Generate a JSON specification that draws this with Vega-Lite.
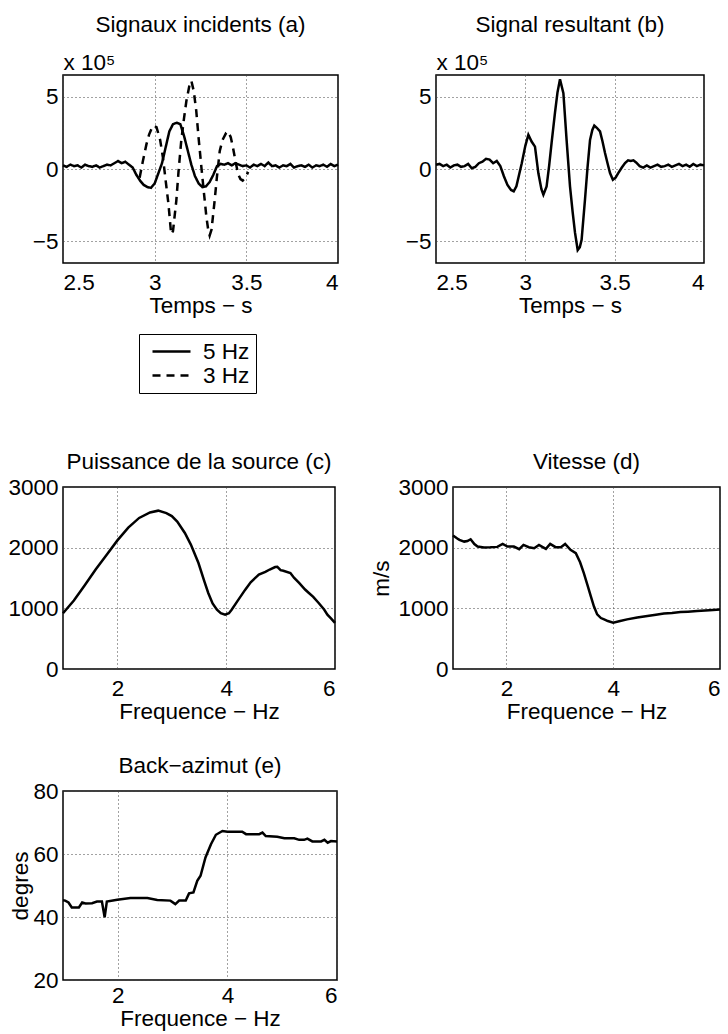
{
  "$schema": "https://vega.github.io/schema/vega-lite/v6.json",
  "background": "white",
  "padding": {"left": 7, "top": 12, "right": 5, "bottom": 5},
  "config": {
    "font": "Liberation Sans",
    "view": {"stroke": "#000", "strokeWidth": 1.5},
    "axis": {
      "labelFont": "Liberation Sans", "labelFontSize": 22.5, "labelColor": "#000",
      "titleFont": "Liberation Sans", "titleFontSize": 22.5, "titleFontWeight": "normal", "titleColor": "#000",
      "domain": false, "ticks": false, "tickSize": 0,
      "grid": true, "gridColor": "#444", "gridDash": [1, 3], "gridWidth": 1, "gridOpacity": 1
    },
    "axisX": {"labelPadding": 8, "titlePadding": 1},
    "axisY": {"labelPadding": 5},
    "title": {"font": "Liberation Sans", "fontSize": 22.5, "fontWeight": "normal", "color": "#000", "anchor": "middle"},
    "line": {"color": "#000", "strokeWidth": 2.5}
  },
  "datasets": {
    "sigA": [
      {"t":2.50,"amp":25000,"serie":"5 Hz"},{"t":2.52,"amp":15000,"serie":"5 Hz"},{"t":2.54,"amp":30000,"serie":"5 Hz"},{"t":2.56,"amp":20000,"serie":"5 Hz"},{"t":2.58,"amp":25000,"serie":"5 Hz"},{"t":2.60,"amp":10000,"serie":"5 Hz"},{"t":2.62,"amp":30000,"serie":"5 Hz"},{"t":2.64,"amp":20000,"serie":"5 Hz"},{"t":2.66,"amp":15000,"serie":"5 Hz"},{"t":2.68,"amp":25000,"serie":"5 Hz"},{"t":2.70,"amp":10000,"serie":"5 Hz"},{"t":2.72,"amp":20000,"serie":"5 Hz"},{"t":2.74,"amp":30000,"serie":"5 Hz"},{"t":2.76,"amp":25000,"serie":"5 Hz"},{"t":2.78,"amp":40000,"serie":"5 Hz"},{"t":2.80,"amp":55000,"serie":"5 Hz"},{"t":2.82,"amp":40000,"serie":"5 Hz"},{"t":2.84,"amp":50000,"serie":"5 Hz"},{"t":2.86,"amp":30000,"serie":"5 Hz"},{"t":2.88,"amp":10000,"serie":"5 Hz"},{"t":2.90,"amp":-40000,"serie":"5 Hz"},{"t":2.92,"amp":-80000,"serie":"5 Hz"},{"t":2.94,"amp":-110000,"serie":"5 Hz"},{"t":2.96,"amp":-125000,"serie":"5 Hz"},{"t":2.98,"amp":-130000,"serie":"5 Hz"},{"t":3.00,"amp":-100000,"serie":"5 Hz"},{"t":3.02,"amp":-30000,"serie":"5 Hz"},{"t":3.04,"amp":40000,"serie":"5 Hz"},{"t":3.06,"amp":150000,"serie":"5 Hz"},{"t":3.08,"amp":260000,"serie":"5 Hz"},{"t":3.10,"amp":310000,"serie":"5 Hz"},{"t":3.12,"amp":320000,"serie":"5 Hz"},{"t":3.14,"amp":310000,"serie":"5 Hz"},{"t":3.16,"amp":230000,"serie":"5 Hz"},{"t":3.18,"amp":130000,"serie":"5 Hz"},{"t":3.20,"amp":30000,"serie":"5 Hz"},{"t":3.22,"amp":-50000,"serie":"5 Hz"},{"t":3.24,"amp":-100000,"serie":"5 Hz"},{"t":3.26,"amp":-125000,"serie":"5 Hz"},{"t":3.28,"amp":-120000,"serie":"5 Hz"},{"t":3.30,"amp":-90000,"serie":"5 Hz"},{"t":3.32,"amp":-40000,"serie":"5 Hz"},{"t":3.34,"amp":20000,"serie":"5 Hz"},{"t":3.36,"amp":35000,"serie":"5 Hz"},{"t":3.38,"amp":30000,"serie":"5 Hz"},{"t":3.40,"amp":40000,"serie":"5 Hz"},{"t":3.42,"amp":25000,"serie":"5 Hz"},{"t":3.44,"amp":40000,"serie":"5 Hz"},{"t":3.46,"amp":30000,"serie":"5 Hz"},{"t":3.48,"amp":20000,"serie":"5 Hz"},{"t":3.50,"amp":25000,"serie":"5 Hz"},{"t":3.52,"amp":10000,"serie":"5 Hz"},{"t":3.54,"amp":30000,"serie":"5 Hz"},{"t":3.56,"amp":20000,"serie":"5 Hz"},{"t":3.58,"amp":35000,"serie":"5 Hz"},{"t":3.60,"amp":20000,"serie":"5 Hz"},{"t":3.62,"amp":45000,"serie":"5 Hz"},{"t":3.64,"amp":20000,"serie":"5 Hz"},{"t":3.66,"amp":25000,"serie":"5 Hz"},{"t":3.68,"amp":10000,"serie":"5 Hz"},{"t":3.70,"amp":25000,"serie":"5 Hz"},{"t":3.72,"amp":20000,"serie":"5 Hz"},{"t":3.74,"amp":35000,"serie":"5 Hz"},{"t":3.76,"amp":10000,"serie":"5 Hz"},{"t":3.78,"amp":20000,"serie":"5 Hz"},{"t":3.80,"amp":25000,"serie":"5 Hz"},{"t":3.82,"amp":15000,"serie":"5 Hz"},{"t":3.84,"amp":30000,"serie":"5 Hz"},{"t":3.86,"amp":10000,"serie":"5 Hz"},{"t":3.88,"amp":25000,"serie":"5 Hz"},{"t":3.90,"amp":20000,"serie":"5 Hz"},{"t":3.92,"amp":30000,"serie":"5 Hz"},{"t":3.94,"amp":15000,"serie":"5 Hz"},{"t":3.96,"amp":35000,"serie":"5 Hz"},{"t":3.98,"amp":20000,"serie":"5 Hz"},{"t":4.00,"amp":30000,"serie":"5 Hz"},
      {"t":2.918,"amp":-60000,"serie":"3 Hz"},{"t":2.935,"amp":50000,"serie":"3 Hz"},{"t":2.955,"amp":170000,"serie":"3 Hz"},{"t":2.97,"amp":240000,"serie":"3 Hz"},{"t":2.99,"amp":300000,"serie":"3 Hz"},{"t":3.01,"amp":290000,"serie":"3 Hz"},{"t":3.03,"amp":200000,"serie":"3 Hz"},{"t":3.045,"amp":80000,"serie":"3 Hz"},{"t":3.06,"amp":-80000,"serie":"3 Hz"},{"t":3.075,"amp":-240000,"serie":"3 Hz"},{"t":3.09,"amp":-450000,"serie":"3 Hz"},{"t":3.10,"amp":-430000,"serie":"3 Hz"},{"t":3.118,"amp":-220000,"serie":"3 Hz"},{"t":3.13,"amp":-20000,"serie":"3 Hz"},{"t":3.145,"amp":195000,"serie":"3 Hz"},{"t":3.16,"amp":350000,"serie":"3 Hz"},{"t":3.173,"amp":470000,"serie":"3 Hz"},{"t":3.19,"amp":580000,"serie":"3 Hz"},{"t":3.20,"amp":610000,"serie":"3 Hz"},{"t":3.213,"amp":540000,"serie":"3 Hz"},{"t":3.227,"amp":400000,"serie":"3 Hz"},{"t":3.24,"amp":210000,"serie":"3 Hz"},{"t":3.255,"amp":10000,"serie":"3 Hz"},{"t":3.27,"amp":-180000,"serie":"3 Hz"},{"t":3.282,"amp":-330000,"serie":"3 Hz"},{"t":3.292,"amp":-420000,"serie":"3 Hz"},{"t":3.30,"amp":-460000,"serie":"3 Hz"},{"t":3.31,"amp":-420000,"serie":"3 Hz"},{"t":3.327,"amp":-220000,"serie":"3 Hz"},{"t":3.34,"amp":-50000,"serie":"3 Hz"},{"t":3.355,"amp":125000,"serie":"3 Hz"},{"t":3.37,"amp":200000,"serie":"3 Hz"},{"t":3.39,"amp":250000,"serie":"3 Hz"},{"t":3.40,"amp":260000,"serie":"3 Hz"},{"t":3.415,"amp":220000,"serie":"3 Hz"},{"t":3.427,"amp":150000,"serie":"3 Hz"},{"t":3.44,"amp":60000,"serie":"3 Hz"},{"t":3.455,"amp":-35000,"serie":"3 Hz"},{"t":3.468,"amp":-70000,"serie":"3 Hz"},{"t":3.48,"amp":-80000,"serie":"3 Hz"},{"t":3.495,"amp":-60000,"serie":"3 Hz"},{"t":3.51,"amp":-20000,"serie":"3 Hz"}
    ],
    "sigB": [
      {"t":2.50,"amp":30000},{"t":2.52,"amp":35000},{"t":2.54,"amp":20000},{"t":2.56,"amp":30000},{"t":2.58,"amp":10000},{"t":2.60,"amp":25000},{"t":2.62,"amp":30000},{"t":2.64,"amp":15000},{"t":2.66,"amp":20000},{"t":2.68,"amp":35000},{"t":2.70,"amp":5000},{"t":2.72,"amp":15000},{"t":2.74,"amp":40000},{"t":2.76,"amp":50000},{"t":2.78,"amp":70000},{"t":2.80,"amp":65000},{"t":2.82,"amp":40000},{"t":2.84,"amp":55000},{"t":2.86,"amp":20000},{"t":2.88,"amp":-50000},{"t":2.90,"amp":-110000},{"t":2.92,"amp":-145000},{"t":2.935,"amp":-155000},{"t":2.95,"amp":-120000},{"t":2.965,"amp":-40000},{"t":2.98,"amp":40000},{"t":3.00,"amp":160000},{"t":3.017,"amp":237000},{"t":3.035,"amp":190000},{"t":3.054,"amp":155000},{"t":3.073,"amp":-30000},{"t":3.09,"amp":-140000},{"t":3.101,"amp":-177000},{"t":3.119,"amp":-120000},{"t":3.133,"amp":20000},{"t":3.147,"amp":180000},{"t":3.166,"amp":390000},{"t":3.18,"amp":530000},{"t":3.194,"amp":620000},{"t":3.213,"amp":525000},{"t":3.231,"amp":200000},{"t":3.25,"amp":-120000},{"t":3.265,"amp":-300000},{"t":3.278,"amp":-440000},{"t":3.293,"amp":-560000},{"t":3.305,"amp":-540000},{"t":3.315,"amp":-490000},{"t":3.334,"amp":-210000},{"t":3.348,"amp":10000},{"t":3.362,"amp":200000},{"t":3.375,"amp":270000},{"t":3.386,"amp":300000},{"t":3.40,"amp":285000},{"t":3.418,"amp":260000},{"t":3.432,"amp":190000},{"t":3.446,"amp":110000},{"t":3.46,"amp":40000},{"t":3.474,"amp":-28000},{"t":3.49,"amp":-74000},{"t":3.505,"amp":-60000},{"t":3.52,"amp":-28000},{"t":3.54,"amp":10000},{"t":3.558,"amp":41000},{"t":3.575,"amp":60000},{"t":3.59,"amp":55000},{"t":3.605,"amp":60000},{"t":3.62,"amp":45000},{"t":3.64,"amp":20000},{"t":3.66,"amp":10000},{"t":3.68,"amp":25000},{"t":3.70,"amp":10000},{"t":3.72,"amp":20000},{"t":3.74,"amp":30000},{"t":3.76,"amp":15000},{"t":3.78,"amp":20000},{"t":3.80,"amp":30000},{"t":3.82,"amp":15000},{"t":3.84,"amp":25000},{"t":3.86,"amp":35000},{"t":3.88,"amp":20000},{"t":3.90,"amp":30000},{"t":3.92,"amp":15000},{"t":3.94,"amp":35000},{"t":3.96,"amp":20000},{"t":3.98,"amp":30000},{"t":4.00,"amp":25000}
    ],
    "puissance": [
      {"f":1.0,"p":920},{"f":1.2,"p":1130},{"f":1.4,"p":1380},{"f":1.6,"p":1640},{"f":1.8,"p":1880},{"f":2.0,"p":2120},{"f":2.2,"p":2330},{"f":2.4,"p":2490},{"f":2.6,"p":2580},{"f":2.75,"p":2610},{"f":2.9,"p":2570},{"f":3.0,"p":2520},{"f":3.1,"p":2430},{"f":3.24,"p":2242},{"f":3.35,"p":2050},{"f":3.49,"p":1747},{"f":3.6,"p":1440},{"f":3.67,"p":1253},{"f":3.75,"p":1080},{"f":3.83,"p":978},{"f":3.9,"p":920},{"f":3.98,"p":896},{"f":4.05,"p":920},{"f":4.1,"p":978},{"f":4.2,"p":1110},{"f":4.35,"p":1308},{"f":4.45,"p":1430},{"f":4.6,"p":1555},{"f":4.72,"p":1600},{"f":4.8,"p":1640},{"f":4.9,"p":1680},{"f":4.94,"p":1685},{"f":5.0,"p":1630},{"f":5.05,"p":1620},{"f":5.18,"p":1582},{"f":5.25,"p":1500},{"f":5.34,"p":1418},{"f":5.45,"p":1310},{"f":5.52,"p":1253},{"f":5.6,"p":1190},{"f":5.7,"p":1088},{"f":5.8,"p":980},{"f":5.86,"p":896},{"f":5.93,"p":830},{"f":6.0,"p":760}
    ],
    "vitesse": [
      {"f":1.0,"v":2200},{"f":1.08,"v":2150},{"f":1.12,"v":2128},{"f":1.21,"v":2100},{"f":1.27,"v":2110},{"f":1.33,"v":2139},{"f":1.40,"v":2060},{"f":1.46,"v":2019},{"f":1.58,"v":2002},{"f":1.70,"v":2005},{"f":1.83,"v":2013},{"f":1.93,"v":2062},{"f":2.02,"v":2019},{"f":2.14,"v":2019},{"f":2.24,"v":1975},{"f":2.32,"v":2046},{"f":2.42,"v":2008},{"f":2.52,"v":1991},{"f":2.61,"v":2046},{"f":2.68,"v":2010},{"f":2.74,"v":1980},{"f":2.82,"v":2062},{"f":2.92,"v":2008},{"f":3.02,"v":2008},{"f":3.10,"v":2062},{"f":3.20,"v":1964},{"f":3.30,"v":1909},{"f":3.38,"v":1760},{"f":3.45,"v":1582},{"f":3.52,"v":1380},{"f":3.58,"v":1200},{"f":3.64,"v":1030},{"f":3.70,"v":900},{"f":3.77,"v":840},{"f":3.83,"v":818},{"f":3.90,"v":790},{"f":4.00,"v":764},{"f":4.13,"v":790},{"f":4.26,"v":818},{"f":4.45,"v":850},{"f":4.64,"v":873},{"f":4.80,"v":895},{"f":4.95,"v":916},{"f":5.10,"v":925},{"f":5.26,"v":938},{"f":5.40,"v":945},{"f":5.57,"v":955},{"f":5.80,"v":970},{"f":6.00,"v":982}
    ],
    "azimut": [
      {"f":1.0,"deg":45.3},{"f":1.04,"deg":45.2},{"f":1.10,"deg":44.6},{"f":1.16,"deg":43.0},{"f":1.29,"deg":43.0},{"f":1.35,"deg":44.6},{"f":1.41,"deg":44.3},{"f":1.53,"deg":44.4},{"f":1.62,"deg":44.9},{"f":1.71,"deg":44.9},{"f":1.76,"deg":39.9},{"f":1.80,"deg":44.9},{"f":1.99,"deg":45.5},{"f":2.23,"deg":46.0},{"f":2.54,"deg":46.0},{"f":2.72,"deg":45.4},{"f":2.96,"deg":45.2},{"f":3.05,"deg":44.1},{"f":3.12,"deg":45.2},{"f":3.24,"deg":45.2},{"f":3.30,"deg":47.5},{"f":3.38,"deg":47.8},{"f":3.45,"deg":51.5},{"f":3.51,"deg":53.1},{"f":3.60,"deg":58.9},{"f":3.70,"deg":63.1},{"f":3.79,"deg":66.1},{"f":3.91,"deg":67.3},{"f":4.00,"deg":67.1},{"f":4.27,"deg":67.1},{"f":4.34,"deg":66.3},{"f":4.58,"deg":66.3},{"f":4.64,"deg":66.8},{"f":4.70,"deg":65.7},{"f":4.91,"deg":65.5},{"f":5.04,"deg":65.0},{"f":5.22,"deg":65.0},{"f":5.31,"deg":64.5},{"f":5.40,"deg":64.5},{"f":5.46,"deg":64.9},{"f":5.55,"deg":64.0},{"f":5.71,"deg":64.0},{"f":5.77,"deg":64.5},{"f":5.83,"deg":63.6},{"f":5.89,"deg":64.1},{"f":6.00,"deg":64.0}
    ]
  },
  "spacing": 131,
  "resolve": {"scale": {"x": "independent", "y": "independent"}},
  "vconcat": [
    {
      "spacing": 60,
      "resolve": {"scale": {"x": "independent", "y": "independent"}},
      "hconcat": [
        {
          "width": 275, "height": 188,
          "title": {"text": "Signaux incidents (a)", "offset": 15},
          "data": {"name": "sigA"},
          "mark": {"type": "line", "color": "#000", "strokeWidth": 2.5},
          "encoding": {
            "x": {"field": "t", "type": "quantitative", "scale": {"domain": [2.5, 4], "nice": false, "zero": false}, "axis": {"values": [2.5, 3, 3.5, 4], "format": "~g", "title": "Temps − s"}},
            "y": {"field": "amp", "type": "quantitative", "scale": {"domain": [-650000, 650000], "nice": false, "zero": false}, "axis": {"values": [-500000, 0, 500000], "labelExpr": "format(datum.value / 100000, 'd')", "title": "x 10⁵", "titleAngle": 0, "titleAlign": "left", "titleBaseline": "alphabetic", "titleX": 0, "titleY": -6}},
            "strokeDash": {"field": "serie", "type": "nominal", "scale": {"domain": ["5 Hz", "3 Hz"], "range": [[1, 0], [8, 6]]}, "legend": {"orient": "none", "legendX": 76, "legendY": 259, "title": null, "symbolType": "M-0.4,0H3.4", "symbolSize": 400, "symbolStrokeWidth": 2.5, "symbolStrokeColor": "#000", "labelFontSize": 22.5, "labelFont": "Liberation Sans", "labelColor": "#000", "labelOffset": 35, "rowPadding": 1, "padding": 6, "strokeColor": "#000", "fillColor": "#fff"}}
          }
        },
        {
          "width": 268, "height": 188,
          "title": {"text": "Signal resultant (b)", "offset": 15},
          "data": {"name": "sigB"},
          "mark": {"type": "line", "color": "#000", "strokeWidth": 2.5},
          "encoding": {
            "x": {"field": "t", "type": "quantitative", "scale": {"domain": [2.5, 4], "nice": false, "zero": false}, "axis": {"values": [2.5, 3, 3.5, 4], "format": "~g", "title": "Temps − s"}},
            "y": {"field": "amp", "type": "quantitative", "scale": {"domain": [-650000, 650000], "nice": false, "zero": false}, "axis": {"values": [-500000, 0, 500000], "labelExpr": "format(datum.value / 100000, 'd')", "title": "x 10⁵", "titleAngle": 0, "titleAlign": "left", "titleBaseline": "alphabetic", "titleX": 0, "titleY": -6}}
          }
        }
      ]
    },
    {
      "spacing": 29,
      "resolve": {"scale": {"x": "independent", "y": "independent"}},
      "vconcat": [
        {
          "spacing": 29,
          "resolve": {"scale": {"x": "independent", "y": "independent"}},
          "hconcat": [
            {
              "width": 272, "height": 182,
              "title": {"text": "Puissance de la source (c)", "offset": 3},
              "data": {"name": "puissance"},
              "mark": {"type": "line", "color": "#000", "strokeWidth": 2.5},
              "encoding": {
                "x": {"field": "f", "type": "quantitative", "scale": {"domain": [1, 6], "nice": false, "zero": false}, "axis": {"values": [2, 4, 6], "format": "d", "title": "Frequence − Hz"}},
                "y": {"field": "p", "type": "quantitative", "scale": {"domain": [0, 3000], "nice": false}, "axis": {"values": [0, 1000, 2000, 3000], "format": "d", "title": null}}
              }
            },
            {
              "width": 267, "height": 182,
              "title": {"text": "Vitesse (d)", "offset": 3},
              "data": {"name": "vitesse"},
              "mark": {"type": "line", "color": "#000", "strokeWidth": 2.5},
              "encoding": {
                "x": {"field": "f", "type": "quantitative", "scale": {"domain": [1, 6], "nice": false, "zero": false}, "axis": {"values": [2, 4, 6], "format": "d", "title": "Frequence − Hz"}},
                "y": {"field": "v", "type": "quantitative", "scale": {"domain": [0, 3000], "nice": false}, "axis": {"values": [0, 1000, 2000, 3000], "format": "d", "title": "m/s", "titlePadding": 4}}
              }
            }
          ]
        },
        {
          "width": 274, "height": 189,
          "title": {"text": "Back−azimut (e)", "offset": 3},
          "data": {"name": "azimut"},
          "mark": {"type": "line", "color": "#000", "strokeWidth": 2.5},
          "encoding": {
            "x": {"field": "f", "type": "quantitative", "scale": {"domain": [1, 6], "nice": false, "zero": false}, "axis": {"values": [2, 4, 6], "format": "d", "title": "Frequence − Hz", "labelPadding": 4}},
            "y": {"field": "deg", "type": "quantitative", "scale": {"domain": [20, 80], "nice": false, "zero": false}, "axis": {"values": [20, 40, 60, 80], "format": "d", "title": "degres", "titlePadding": 0}}
          }
        }
      ]
    }
  ]
}
